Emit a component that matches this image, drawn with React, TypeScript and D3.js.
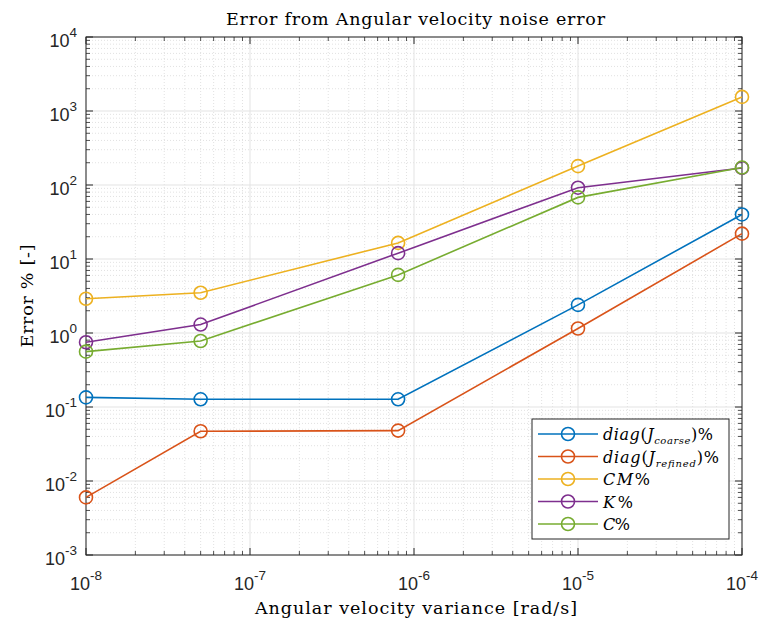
import React from "react";
import * as d3 from "d3";

const xValues = [1e-8, 5e-8, 8e-7, 1e-5, 1e-4];
const seriesNames = ["coarse", "refined", "CM", "K", "C"];
const seriesColors = ["#0072BD", "#D95319", "#EDB120", "#7E2F8E", "#77AC30"];
const jCoarse = [0.135, 0.127, 0.127, 2.4, 40];
const jRefined = [0.006, 0.047, 0.048, 1.15, 22];
const cmValues = [2.9, 3.5, 16.5, 180, 1550];
const kValues = [0.75, 1.3, 12, 92, 170];
const cValues = [0.56, 0.78, 6.1, 68, 172];
const xTickExps = [-8, -7, -6, -5, -4];
const yTickExps = [-3, -2, -1, 0, 1, 2, 3, 4];

const W = 761, H = 621;
const left = 86, right = 742, top = 37, bottom = 555;

export default function App() {
  const x = d3.scaleLog().domain([1e-8, 1e-4]).range([left, right]);
  const y = d3.scaleLog().domain([1e-3, 1e4]).range([bottom, top]);
  const allSeries = [jCoarse, jRefined, cmValues, kValues, cValues];
  const line = d3.line<number>().x((_, i) => x(xValues[i])).y((d) => y(d));

  const xMinor: number[] = [];
  for (let e = -8; e < -4; e++) for (let m = 2; m <= 9; m++) xMinor.push(m * Math.pow(10, e));
  const yMinor: number[] = [];
  for (let e = -3; e < 4; e++) for (let m = 2; m <= 9; m++) yMinor.push(m * Math.pow(10, e));

  const axisColor = "#262626";
  const tickFont = "'Liberation Sans', Arial, sans-serif";
  const serif = "'DejaVu Serif', 'Liberation Serif', serif";

  const legendLabels = [
    <tspan key="a"><tspan fontStyle="italic">diag</tspan>(<tspan fontStyle="italic">J</tspan><tspan fontStyle="italic" fontSize="10" dy="4">coarse</tspan><tspan dy="-4">)%</tspan></tspan>,
    <tspan key="b"><tspan fontStyle="italic">diag</tspan>(<tspan fontStyle="italic">J</tspan><tspan fontStyle="italic" fontSize="10" dy="4">refined</tspan><tspan dy="-4">)%</tspan></tspan>,
    <tspan key="c"><tspan fontStyle="italic">CM</tspan>%</tspan>,
    <tspan key="d"><tspan fontStyle="italic">K</tspan>%</tspan>,
    <tspan key="e"><tspan fontStyle="italic">C</tspan>%</tspan>,
  ];
  const legendWidths = [110, 116, 47, 30, 27];

  const lgX = 532, lgY = 419, lgW = 197, lgH = 120;
  const rowH = 22.5;

  return (
    <svg width={W} height={H} style={{ position: "absolute", left: 0, top: 0, background: "#fff" }}>
      <rect x={0} y={0} width={W} height={H} fill="#fff" />
      {/* minor grid */}
      {xMinor.map((v, i) => (
        <line key={"xm" + i} x1={x(v)} x2={x(v)} y1={top} y2={bottom} stroke="#cfcfcf" strokeWidth={0.6} strokeDasharray="1,2" />
      ))}
      {yMinor.map((v, i) => (
        <line key={"ym" + i} x1={left} x2={right} y1={y(v)} y2={y(v)} stroke="#cfcfcf" strokeWidth={0.6} strokeDasharray="1,2" />
      ))}
      {/* major grid */}
      {xTickExps.map((e) => (
        <line key={"xg" + e} x1={x(Math.pow(10, e))} x2={x(Math.pow(10, e))} y1={top} y2={bottom} stroke="#e3e3e3" strokeWidth={1} />
      ))}
      {yTickExps.map((e) => (
        <line key={"yg" + e} x1={left} x2={right} y1={y(Math.pow(10, e))} y2={y(Math.pow(10, e))} stroke="#e3e3e3" strokeWidth={1} />
      ))}
      {/* ticks */}
      {xTickExps.map((e) => {
        const px = x(Math.pow(10, e));
        return (
          <g key={"xt" + e}>
            <line x1={px} x2={px} y1={bottom} y2={bottom - 7} stroke={axisColor} />
            <line x1={px} x2={px} y1={top} y2={top + 7} stroke={axisColor} />
          </g>
        );
      })}
      {xMinor.map((v, i) => (
        <g key={"xmt" + i}>
          <line x1={x(v)} x2={x(v)} y1={bottom} y2={bottom - 4} stroke={axisColor} strokeWidth={0.8} />
          <line x1={x(v)} x2={x(v)} y1={top} y2={top + 4} stroke={axisColor} strokeWidth={0.8} />
        </g>
      ))}
      {yTickExps.map((e) => {
        const py = y(Math.pow(10, e));
        return (
          <g key={"yt" + e}>
            <line x1={left} x2={left + 7} y1={py} y2={py} stroke={axisColor} />
            <line x1={right} x2={right - 7} y1={py} y2={py} stroke={axisColor} />
          </g>
        );
      })}
      {yMinor.map((v, i) => (
        <g key={"ymt" + i}>
          <line x1={left} x2={left + 4} y1={y(v)} y2={y(v)} stroke={axisColor} strokeWidth={0.8} />
          <line x1={right} x2={right - 4} y1={y(v)} y2={y(v)} stroke={axisColor} strokeWidth={0.8} />
        </g>
      ))}
      {/* box */}
      <rect x={left} y={top} width={right - left} height={bottom - top} fill="none" stroke={axisColor} strokeWidth={1} />
      {/* tick labels */}
      {xTickExps.map((e) => (
        <text key={"xl" + e} x={x(Math.pow(10, e))} y={590} textAnchor="middle" fontFamily={tickFont} fontSize={18} fill={axisColor}>
          10<tspan fontSize={13.5} dy={-10}>{e}</tspan>
        </text>
      ))}
      {yTickExps.map((e) => (
        <text key={"yl" + e} x={77} y={y(Math.pow(10, e)) + 10} textAnchor="end" fontFamily={tickFont} fontSize={18} fill={axisColor}>
          10<tspan fontSize={13.5} dy={-10}>{e}</tspan>
        </text>
      ))}
      {/* series */}
      {allSeries.map((s, si) => (
        <g key={"s" + si}>
          <path d={line(s) || ""} fill="none" stroke={seriesColors[si]} strokeWidth={1.6} />
          {s.map((v, i) => (
            <circle key={i} cx={x(xValues[i])} cy={y(v)} r={6.5} fill="none" stroke={seriesColors[si]} strokeWidth={1.6} />
          ))}
        </g>
      ))}
      {/* legend */}
      <rect x={lgX} y={lgY} width={lgW} height={lgH} fill="#fff" stroke={axisColor} strokeWidth={1} />
      {seriesNames.map((n, i) => {
        const ry = lgY + 15 + i * rowH;
        return (
          <g key={"lg" + n}>
            <line x1={lgX + 6} x2={lgX + 66} y1={ry} y2={ry} stroke={seriesColors[i]} strokeWidth={1.6} />
            <circle cx={lgX + 36} cy={ry} r={6.5} fill="none" stroke={seriesColors[i]} strokeWidth={1.6} />
            <text x={lgX + 71} y={ry + 6} fontFamily={serif} fontSize={16} fill="#000" textLength={legendWidths[i]} lengthAdjust="spacing">
              {legendLabels[i]}
            </text>
          </g>
        );
      })}
      {/* title & labels */}
      <text x={226} y={25} fontFamily={serif} fontSize={17.5} fill="#000" textLength={379} lengthAdjust="spacing">
        Error from Angular velocity noise error
      </text>
      <text x={255} y={614} fontFamily={serif} fontSize={17.5} fill="#000" textLength={322} lengthAdjust="spacing">
        Angular velocity variance [rad/s]
      </text>
      <text transform={`translate(33,${(top + bottom) / 2}) rotate(-90)`} textAnchor="middle" fontFamily={serif} fontSize={17.5} fill="#000" textLength={103} lengthAdjust="spacing">
        Error % [-]
      </text>
    </svg>
  );
}
